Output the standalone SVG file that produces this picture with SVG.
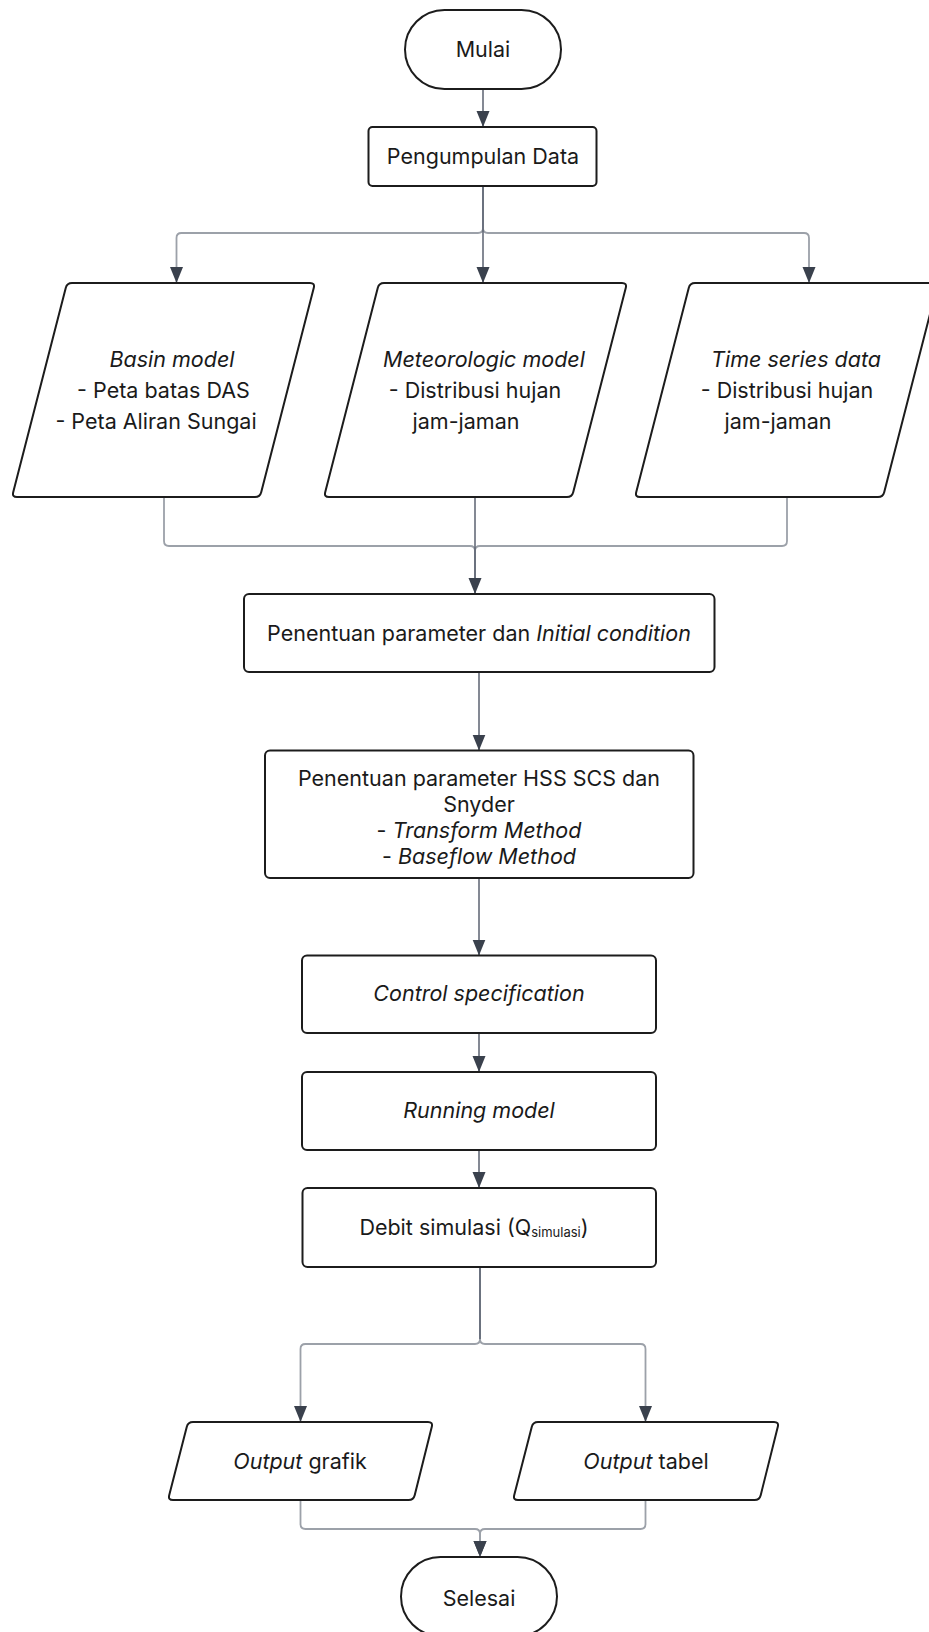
<svg xmlns="http://www.w3.org/2000/svg" width="929" height="1632" viewBox="0 0 929 1632">
<style>
.n{fill:#fff;stroke:#1c1c1c;stroke-width:2;stroke-linejoin:round}
.t{font-family:Inter,"Noto Sans","Liberation Sans",sans-serif;font-size:21.5px;fill:#1a1a1a;text-anchor:middle}
.i{font-style:italic}
.c{fill:none;stroke:#5b6270;stroke-width:1.5}
.m{fill:none;stroke:#9ca1a9;stroke-width:1.8}
</style>
<defs>
<marker id="ah" markerUnits="userSpaceOnUse" markerWidth="16" markerHeight="14" viewBox="0 0 16 14" refX="16" refY="7" orient="auto">
<path d="M0,0.5 L16,7 L0,13.5 Z" fill="#3a414d"/>
</marker>
</defs>
<rect width="929" height="1632" fill="#fff"/>
<g id="connectors">
<path class="c" d="M483,89 V127" marker-end="url(#ah)"/>
<path class="m" d="M483,186 V228 Q483,233 478,233 H181.5 Q176.5,233 176.5,238 V283" marker-end="url(#ah)"/>
<path class="m" d="M483,186 V228 Q483,233 488,233 H804 Q809,233 809,238 V283" marker-end="url(#ah)"/>
<path class="c" d="M483,186 V283" marker-end="url(#ah)"/>
<path class="m" d="M164,497 V541 Q164,546 169,546 H470 Q475,546 475,551 V594"/>
<path class="m" d="M787,497 V541 Q787,546 782,546 H480 Q475,546 475,551 V594"/>
<path class="c" d="M475,497 V594" marker-end="url(#ah)"/>
<path class="c" d="M479,672 V750.5" marker-end="url(#ah)"/>
<path class="c" d="M479,878 V955.5" marker-end="url(#ah)"/>
<path class="c" d="M479,1033 V1072" marker-end="url(#ah)"/>
<path class="c" d="M479,1150 V1188" marker-end="url(#ah)"/>
<path class="m" d="M480,1267 V1339 Q480,1344 475,1344 H305.5 Q300.5,1344 300.5,1349 V1422" marker-end="url(#ah)"/>
<path class="m" d="M480,1267 V1339 Q480,1344 485,1344 H640.5 Q645.5,1344 645.5,1349 V1422" marker-end="url(#ah)"/>
<path class="c" d="M480,1267 V1339"/>
<path class="m" d="M300.5,1500 V1524 Q300.5,1529 305.5,1529 H475 Q480,1529 480,1534 V1557" marker-end="url(#ah)"/>
<path class="m" d="M645.5,1500 V1524 Q645.5,1529 640.5,1529 H485 Q480,1529 480,1534 V1557" marker-end="url(#ah)"/>
</g>
<g id="mulai">
<rect class="n" x="405" y="10" width="156" height="79" rx="39.5"/>
<text class="t" x="483" y="57">Mulai</text>
</g>
<g id="pengumpulan">
<rect class="n" x="368.5" y="127" width="228" height="59" rx="4"/>
<text class="t" x="483" y="164">Pengumpulan Data</text>
</g>
<g id="basin">
<path class="n" d="M72,283 H310 Q315,283 313.8,287.8 L261.2,492.2 Q260,497 255,497 H17 Q12,497 13.2,492.2 L65.8,287.8 Q67,283 72,283 Z"/>
<text class="t" x="172" y="367"><tspan class="i">Basin model</tspan></text>
<text class="t" x="163.5" y="398">- Peta batas DAS</text>
<text class="t" x="156" y="429">- Peta Aliran Sungai</text>
</g>
<g id="meteorologic">
<path class="n" d="M384,283 H622 Q627,283 625.8,287.8 L573.2,492.2 Q572,497 567,497 H329 Q324,497 325.2,492.2 L377.8,287.8 Q379,283 384,283 Z"/>
<text class="t" x="484" y="367"><tspan class="i">Meteorologic model</tspan></text>
<text class="t" x="475" y="398">- Distribusi hujan</text>
<text class="t" x="466" y="429">jam-jaman</text>
</g>
<g id="timeseries">
<path class="n" d="M695,283 H933 Q938,283 936.8,287.8 L884.2,492.2 Q883,497 878,497 H640 Q635,497 636.2,492.2 L688.8,287.8 Q690,283 695,283 Z"/>
<text class="t" x="796" y="367"><tspan class="i">Time series data</tspan></text>
<text class="t" x="787" y="398">- Distribusi hujan</text>
<text class="t" x="778" y="429">jam-jaman</text>
</g>
<g id="initial">
<rect class="n" x="244" y="594" width="470.5" height="78" rx="5"/>
<text class="t" x="479" y="641">Penentuan parameter dan <tspan class="i">Initial condition</tspan></text>
</g>
<g id="hss">
<rect class="n" x="265" y="750.5" width="428.5" height="127.5" rx="5"/>
<text class="t" x="479" y="786">Penentuan parameter HSS SCS dan</text>
<text class="t" x="479" y="812">Snyder</text>
<text class="t" x="479" y="838">- <tspan class="i">Transform Method</tspan></text>
<text class="t" x="479" y="864">- <tspan class="i">Baseflow Method</tspan></text>
</g>
<g id="control">
<rect class="n" x="302" y="955.5" width="354" height="77.5" rx="5"/>
<text class="t i" x="479" y="1001">Control specification</text>
</g>
<g id="running">
<rect class="n" x="302" y="1072" width="354" height="78" rx="5"/>
<text class="t i" x="479" y="1118">Running model</text>
</g>
<g id="debit">
<rect class="n" x="302.5" y="1188" width="353.5" height="79" rx="5"/>
<text class="t" x="474" y="1235">Debit simulasi (Q<tspan font-size="13" dy="2">simulasi</tspan><tspan dy="-2">)</tspan></text>
</g>
<g id="outgrafik">
<path class="n" d="M193,1422 H428 Q433,1422 431.8,1426.8 L414.7,1495.2 Q413.5,1500 408.5,1500 H173 Q168,1500 169.2,1495.2 L186.8,1426.8 Q188,1422 193,1422 Z"/>
<text class="t" x="300" y="1469"><tspan class="i">Output</tspan> grafik</text>
</g>
<g id="outtabel">
<path class="n" d="M538,1422 H774 Q779,1422 777.8,1426.8 L760.7,1495.2 Q759.5,1500 754.5,1500 H518 Q513,1500 514.2,1495.2 L531.8,1426.8 Q533,1422 538,1422 Z"/>
<text class="t" x="646" y="1469"><tspan class="i">Output</tspan> tabel</text>
</g>
<g id="selesai">
<rect class="n" x="401" y="1557" width="156" height="79" rx="39.5"/>
<text class="t" x="479" y="1606">Selesai</text>
</g>
</svg>
